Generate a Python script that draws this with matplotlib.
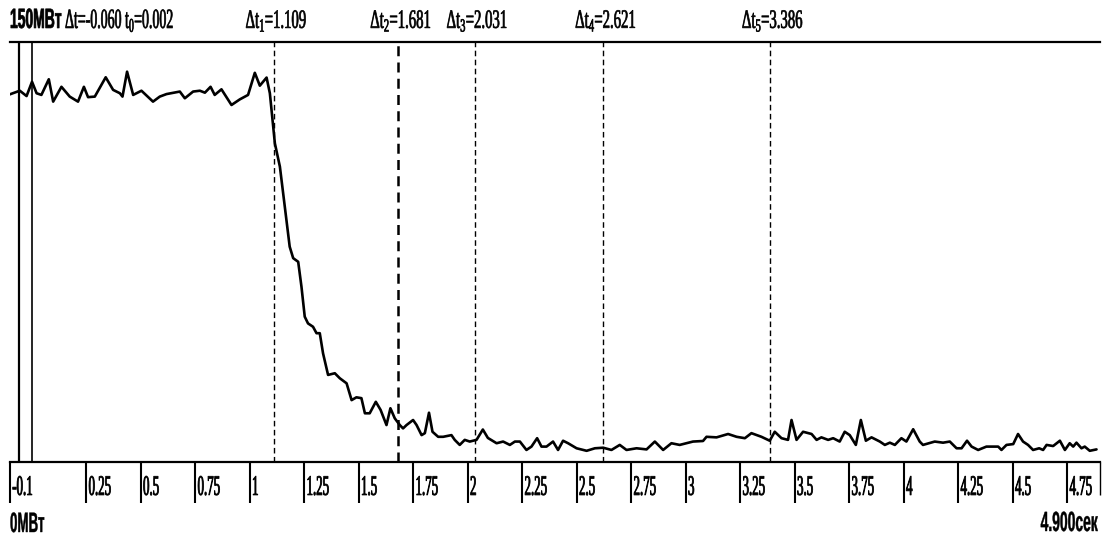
import matplotlib
matplotlib.use("Agg")
import matplotlib.pyplot as plt
from matplotlib import patheffects
from matplotlib.transforms import Affine2D

# ---- recorded trace: time (s) and power (MW) ----
time_s = [
    -0.101, -0.055, -0.024, 0.001, 0.022, 0.044, 0.078, 0.098, 0.136, 0.174,
    0.212, 0.239, 0.258, 0.289, 0.339, 0.373, 0.404, 0.416, 0.437, 0.465,
    0.503, 0.556, 0.587, 0.618, 0.679, 0.702, 0.740, 0.771, 0.794, 0.820,
    0.839, 0.870, 0.916, 0.954, 0.992, 1.023, 1.046, 1.077, 1.092, 1.115,
    1.138, 1.153, 1.168, 1.183, 1.199, 1.222, 1.237, 1.252, 1.267, 1.290,
    1.306, 1.321, 1.336, 1.359, 1.390, 1.413, 1.444, 1.467, 1.489, 1.512,
    1.528, 1.550, 1.578, 1.600, 1.627, 1.645, 1.665, 1.688, 1.703, 1.719,
    1.749, 1.765, 1.788, 1.803, 1.822, 1.838, 1.864, 1.887, 1.925, 1.940,
    1.963, 1.986, 2.009, 2.040, 2.069, 2.092, 2.132, 2.162, 2.193, 2.216,
    2.239, 2.269, 2.292, 2.318, 2.338, 2.361, 2.391, 2.414, 2.437, 2.460,
    2.499, 2.545, 2.583, 2.621, 2.659, 2.697, 2.728, 2.774, 2.820, 2.858,
    2.896, 2.934, 2.972, 3.033, 3.079, 3.095, 3.141, 3.194, 3.233, 3.271,
    3.301, 3.347, 3.385, 3.408, 3.439, 3.469, 3.485, 3.508, 3.538, 3.577,
    3.600, 3.622, 3.653, 3.676, 3.706, 3.729, 3.752, 3.780, 3.803, 3.826,
    3.852, 3.890, 3.913, 3.936, 3.959, 3.989, 4.012, 4.043, 4.073, 4.088,
    4.142, 4.180, 4.211, 4.242, 4.265, 4.290, 4.311, 4.341, 4.379, 4.433,
    4.448, 4.471, 4.502, 4.524, 4.547, 4.570, 4.593, 4.621, 4.639, 4.655,
    4.685, 4.716, 4.739, 4.761, 4.777, 4.792, 4.815, 4.830, 4.853, 4.884,
]
power_mw = [
    131.3, 132.6, 130.7, 135.8, 131.7, 131.1, 136.7, 128.7, 134.0, 130.5,
    128.7, 134.0, 130.3, 130.5, 137.4, 132.9, 131.7, 130.5, 139.4, 131.1,
    132.6, 128.7, 130.5, 131.4, 132.3, 129.9, 132.3, 132.6, 131.9, 134.0,
    131.1, 133.1, 127.5, 129.5, 131.1, 139.0, 134.4, 137.3, 131.7, 113.8,
    105.5, 96.0, 86.4, 76.9, 72.8, 71.5, 62.6, 51.9, 49.5, 48.3,
    46.0, 46.0, 38.8, 31.1, 31.7, 29.9, 28.1, 22.1, 23.1, 22.8,
    17.4, 17.4, 21.5, 18.6, 13.2, 19.2, 15.6, 13.2, 12.0, 13.2,
    15.0, 13.2, 9.6, 10.3, 17.6, 10.8, 9.0, 9.0, 9.6, 7.9,
    6.1, 7.9, 7.3, 7.9, 11.6, 8.6, 6.7, 7.3, 6.1, 7.3,
    7.3, 4.3, 5.5, 8.5, 5.5, 5.5, 7.3, 4.3, 7.6, 6.7,
    4.9, 4.0, 4.9, 5.1, 4.3, 6.1, 4.3, 4.9, 4.5, 7.3,
    4.3, 6.7, 6.1, 7.3, 7.5, 9.0, 8.8, 10.0, 9.0, 8.5,
    10.3, 9.0, 7.6, 10.8, 8.5, 7.9, 15.0, 7.9, 10.8, 10.0,
    7.9, 8.8, 7.9, 8.5, 7.3, 10.8, 9.6, 6.1, 15.0, 7.6,
    8.8, 7.3, 6.1, 6.9, 6.1, 8.5, 7.3, 11.7, 7.3, 6.1,
    7.3, 6.9, 7.3, 4.9, 4.9, 7.6, 5.5, 4.3, 5.5, 5.5,
    4.3, 6.1, 6.4, 10.0, 7.3, 6.1, 4.3, 4.9, 4.3, 6.1,
    5.7, 7.6, 4.3, 6.7, 5.5, 6.9, 4.9, 5.5, 4.0, 4.5,
]

# ---- scale and cursors ----
tick_pos = [-0.1, 0.25, 0.5, 0.75, 1, 1.25, 1.5, 1.75, 2, 2.25, 2.5, 2.75,
            3, 3.25, 3.5, 3.75, 4, 4.25, 4.5, 4.75]
tick_labels = ["-0.1", "0.25", "0.5", "0.75", "1", "1.25", "1.5", "1.75",
               "2", "2.25", "2.5", "2.75", "3", "3.25", "3.5", "3.75", "4",
               "4.25", "4.5", "4.75"]
t_start = -0.1
t_end = 4.900
p_full = 150
p_zero = 0
cursor_t0 = 0.002
cursor_dt = -0.060
marker_t = [1.109, 1.681, 2.031, 2.621, 3.386]

plt.rcParams["mathtext.fontset"] = "custom"
plt.rcParams["mathtext.rm"] = "Liberation Serif"
plt.rcParams["mathtext.it"] = "Liberation Serif:italic"
plt.rcParams["mathtext.bf"] = "Liberation Sans:bold"

SERIF = "Liberation Serif"
SANS = "Liberation Sans"


class Tall(patheffects.AbstractPathEffect):
    """Stretch glyphs upward from the baseline: tall, narrow recorder type."""

    def __init__(self, sy=1.8, stroke=0.0, offset=(0, 0)):
        super().__init__(offset)
        self.sy = sy
        self.stroke = stroke

    def draw_path(self, renderer, gc, tpath, affine, rgbFace=None):
        gc0 = renderer.new_gc()
        gc0.copy_properties(gc)
        if self.stroke and rgbFace is not None:
            gc0.set_linewidth(self.stroke)
            gc0.set_foreground(rgbFace)
            gc0.set_joinstyle("round")
        stretch = Affine2D().scale(1.0, self.sy)
        renderer.draw_path(gc0, tpath,
                           stretch + affine + self._offset_transform(renderer),
                           rgbFace)
        gc0.restore()


W, H = 1102, 536
fig = plt.figure(figsize=(W / 100, H / 100), dpi=100)
ax = fig.add_axes([10 / W, 74 / H, 1090 / W, 420 / H])

ax.plot(time_s, power_mw, color="black", lw=1.9,
        solid_joinstyle="round", solid_capstyle="round", zorder=3)

ax.set_xlim(t_start, t_end)
ax.set_ylim(p_zero, p_full)
for side in ("left", "right"):
    ax.spines[side].set_visible(False)
for side in ("top", "bottom"):
    ax.spines[side].set_linewidth(1.6)
ax.set_yticks([])

ax.set_xticks(tick_pos, tick_labels)
ax.tick_params(axis="x", direction="out", length=29.5, width=1.5,
               pad=-5.8, labelsize=9.3)
for lab in ax.get_xticklabels():
    lab.set_horizontalalignment("left")
    lab.set_verticalalignment("baseline")
    lab.set_family(SERIF)
    lab.set_path_effects([Tall(2.2, stroke=0.6, offset=(1.6, 0))])

# dotted end-of-record mark
ax.set_xticks([t_end], minor=True)
ax.tick_params(axis="x", which="minor", direction="out", length=24,
               width=1.0, labelbottom=False)
for tk in ax.xaxis.get_minor_ticks():
    tk.tick1line.set_linestyle((0, (1.5, 1.5)))

# cursor pair
ax.axvline(cursor_t0 + cursor_dt, color="black", lw=1.6, zorder=2)
ax.axvline(cursor_t0, color="black", lw=1.2, zorder=2)

# interval markers
for i, t in enumerate(marker_t, start=1):
    ax.axvline(t, color="black", lw=1.8 if i == 2 else 1.0,
               ls=(0, (4, 2.5)), zorder=2)
    ax.annotate(rf"$\Delta\mathrm{{t}}_{{{i}}}$={t:.3f}",
                xy=(t, 1), xycoords=("data", "axes fraction"),
                xytext=(-28 * 0.72, 14 * 0.72), textcoords="offset points",
                ha="left", va="baseline", fontsize=10.6, family=SERIF,
                path_effects=[Tall(1.8, stroke=0.5)])

# header and footer
fig.text(10 / W, 1 - 28 / H,
         rf"$\mathbf{{{p_full}МВт}}$ Δt={cursor_dt:.3f} "
         rf"$\mathrm{{t}}_0$={cursor_t0:.3f}",
         fontsize=10, family=SERIF, ha="left", va="baseline",
         path_effects=[Tall(2.0, stroke=0.5)])
fig.text(10 / W, 1 - 532 / H, f"{p_zero}МВт", fontsize=9.6,
         family=SANS, weight="bold", ha="left", va="baseline",
         path_effects=[Tall(2.1, stroke=0.3)])
fig.text(1098 / W, 1 - 531 / H, f"{t_end:.3f}сек", fontsize=10,
         family=SANS, weight="bold", ha="right", va="baseline",
         path_effects=[Tall(2.0, stroke=0.3)])

fig.savefig("out.png", dpi=100)
